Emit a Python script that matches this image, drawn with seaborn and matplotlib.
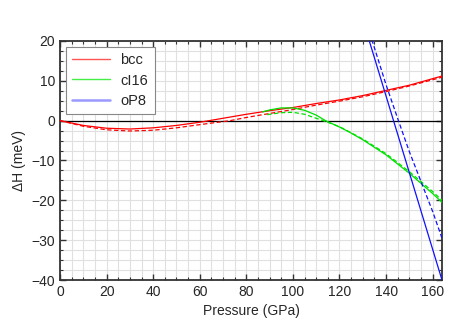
import numpy as np
import pandas as pd
import matplotlib
matplotlib.use("Agg")
import matplotlib.pyplot as plt
from matplotlib.lines import Line2D
from matplotlib.ticker import MultipleLocator
import seaborn as sns

# enthalpy differences (meV) vs pressure (GPa)
bcc_p = [0, 10, 20, 30, 40, 50, 60, 64, 70, 80, 90, 100, 110, 120, 130, 140, 150, 164]
bcc_h = [0, -1.2, -1.9, -2.1, -1.8, -1.2, -0.4, 0, 0.6, 1.6, 2.5, 3.3, 4.3, 5.2, 6.3, 7.6, 8.9, 11.2]
bcc2_p = [0, 10, 20, 30, 40, 50, 60, 73, 80, 90, 100, 110, 120, 130, 140, 150, 164]
bcc2_h = [0, -1.4, -2.3, -2.6, -2.4, -1.8, -1.0, 0, 0.8, 1.8, 2.8, 3.9, 4.9, 6.0, 7.3, 8.7, 10.9]

ci16_p = [87, 90, 95, 100, 105, 110, 114, 120, 124, 130, 140, 150, 160, 164]
ci16_h = [2.2, 2.7, 3.2, 3.2, 2.6, 1.4, 0, -1.6, -2.8, -4.8, -8.6, -13.2, -18.3, -20.5]
ci16b_p = [89, 90, 95, 100, 105, 110, 113, 120, 130, 140, 150, 160, 164]
ci16b_h = [1.5, 1.6, 2.0, 2.1, 1.6, 0.6, 0, -1.5, -4.6, -8.3, -12.8, -17.8, -20.0]

op8_p = [131.5, 143.2, 164]
op8_h = [22.5, 0, -40]
op8b_p = [133, 140, 145.3, 150, 155, 160, 164]
op8b_h = [22, 9.0, 0, -7.8, -15.3, -22.8, -29.5]

sns.set_style("ticks")
plt.rcParams['font.family'] = ['Liberation Sans', 'DejaVu Sans']
plt.rcParams['font.size'] = 10

fig = plt.figure(figsize=(4.63, 3.24), dpi=100)
ax = fig.add_axes([0.1296, 0.1358, 0.825, 0.7377])

red, green, blue = "#ff0000", "#00e000", "#1010ff"
series = [
    (bcc_p, bcc_h, red, "-"), (bcc2_p, bcc2_h, red, "--"),
    (ci16_p, ci16_h, green, "-"), (ci16b_p, ci16b_h, green, "--"),
    (op8_p, op8_h, blue, "-"), (op8b_p, op8b_h, blue, "--"),
]
for p, h, c, ls in series:
    df = pd.DataFrame({"P": p, "H": h})
    sns.lineplot(data=df, x="P", y="H", ax=ax, color=c, linestyle=ls, lw=0.9, zorder=3)
    if ls == "--":
        ax.lines[-1].set_dashes((3.5, 2))

ax.axhline(0, color="black", lw=0.9, zorder=2)

ax.set_xlim(0, 164)
ax.set_ylim(-40, 20)
ax.xaxis.set_major_locator(MultipleLocator(20))
ax.xaxis.set_minor_locator(MultipleLocator(5))
ax.yaxis.set_major_locator(MultipleLocator(10))
ax.yaxis.set_minor_locator(MultipleLocator(2.5))
ax.grid(True, which="both", color="#e0e0e0", lw=0.8, zorder=0)
ax.set_axisbelow(True)
ax.tick_params(which="both", direction="in", top=True, right=True, color="#333333")
ax.tick_params(which="major", length=4.5, width=1, labelsize=10)
ax.tick_params(which="minor", length=2.5, width=0.8)
for s in ax.spines.values():
    s.set_color("#333333")
    s.set_linewidth(1.3)

ax.set_xlabel("Pressure (GPa)", fontsize=10)
ax.set_ylabel("ΔH (meV)", fontsize=10)

handles = [
    Line2D([], [], color="#ff5555", lw=1),
    Line2D([], [], color="#44ee44", lw=1),
    Line2D([], [], color="#9999ff", lw=1.8),
]
leg = ax.legend(handles, ["bcc", "cI16", "oP8"], loc="upper left", fancybox=False,
                framealpha=1, edgecolor="#888888", handlelength=2.6, borderpad=0.45,
                labelspacing=0.42, borderaxespad=0.4, fontsize=10.5, handletextpad=0.7)
leg.get_frame().set_linewidth(0.8)

fig.savefig("out.png", dpi=100)
